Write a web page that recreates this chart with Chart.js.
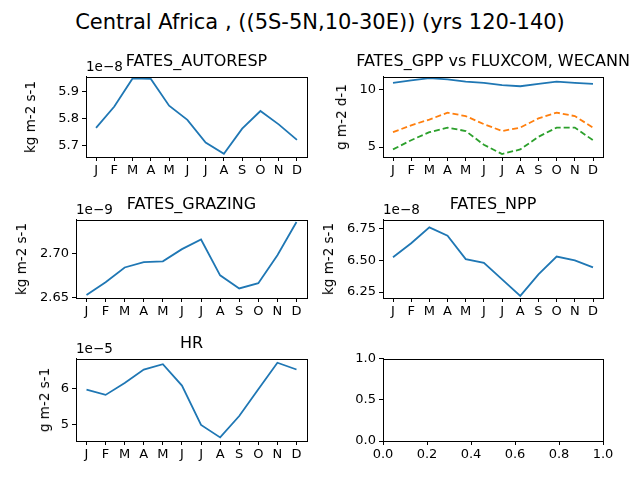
<!DOCTYPE html>
<html>
<head>
<meta charset="utf-8">
<script src="https://cdn.jsdelivr.net/npm/chart.js@4"></script>
<style>
  body { margin: 0; width: 640px; height: 480px; background: #fff; position: relative; overflow: hidden;
         font-family: "DejaVu Sans", sans-serif; color: #000; }
  canvas { position: absolute; }
  .t { position: absolute; white-space: nowrap; }
  .c { transform: translate(-50%, -50%); }
  .l { transform: translate(0, -50%); }
  .r { transform: translate(-50%, -50%) rotate(-90deg); }
</style>
</head>
<body>
<script>
// ---- data ----
const months = ['J', 'F', 'M', 'A', 'M', 'J', 'J', 'A', 'S', 'O', 'N', 'D'];

const autoresp = [5.765, 5.845, 5.95, 5.948, 5.848, 5.795, 5.71, 5.668, 5.762, 5.828, 5.778, 5.72];
const gppFates = [10.6, 10.8, 11.0, 10.9, 10.7, 10.6, 10.4, 10.3, 10.5, 10.7, 10.6, 10.5];
const gppFluxcom = [6.3, 6.9, 7.4, 8.0, 7.7, 7.0, 6.4, 6.7, 7.5, 8.0, 7.7, 6.7];
const gppWecann = [4.8, 5.6, 6.3, 6.7, 6.4, 5.2, 4.4, 4.8, 5.9, 6.7, 6.7, 5.6];
const grazing = [2.6525, 2.667, 2.684, 2.690, 2.691, 2.705, 2.716, 2.675, 2.660, 2.666, 2.698, 2.736];
const npp = [6.525, 6.635, 6.76, 6.695, 6.51, 6.48, 6.35, 6.22, 6.39, 6.53, 6.50, 6.445];
const hr = [5.97, 5.82, 6.15, 6.53, 6.68, 6.08, 4.98, 4.63, 5.23, 5.98, 6.72, 6.53];

const autorespTicks = ['5.7', '5.8', '5.9'];
const gppTicks = ['5', '10'];
const grazingTicks = ['2.65', '2.70'];
const nppTicks = ['6.25', '6.50', '6.75'];
const hrTicks = ['5', '6'];
const emptyTicks = ['0.0', '0.5', '1.0'];
const emptyXTicks = ['0.0', '0.2', '0.4', '0.6', '0.8', '1.0'];

// ---- helpers ----
const BLUE = '#1f77b4', ORANGE = '#ff7f0e', GREEN = '#2ca02c';
const FONT = { family: 'DejaVu Sans', size: 13 };
const PAD_TOP = 10, X_H = 24, PAD_R = 14;

function text(str, x, y, cls, size) {
  const d = document.createElement('div');
  d.className = 't ' + cls;
  d.style.left = x + 'px';
  d.style.top = y + 'px';
  d.style.fontSize = size + 'px';
  d.textContent = str;
  document.body.appendChild(d);
}

const frame = {
  id: 'frame',
  afterDraw(chart) {
    const a = chart.chartArea, c = chart.ctx;
    c.save();
    c.strokeStyle = '#000';
    c.lineWidth = 1;
    c.strokeRect(Math.round(a.left) + 0.5, Math.round(a.top) + 0.5,
                 Math.round(a.right - a.left), Math.round(a.bottom - a.top));
    c.restore();
  }
};

function ticksFrom(labels) {
  return function (scale) { scale.ticks = labels.map(v => ({ value: parseFloat(v) })); };
}

function panel(o) {
  const cv = document.createElement('canvas');
  const w = o.yw + o.pw + PAD_R, h = PAD_TOP + o.ph + X_H;
  cv.width = w; cv.height = h;
  cv.style.width = w + 'px'; cv.style.height = h + 'px';
  cv.style.left = (o.left - o.yw) + 'px';
  cv.style.top = (o.top - PAD_TOP) + 'px';
  document.body.appendChild(cv);

  const xLabels = o.xLabels || months;
  new Chart(cv, {
    type: 'line',
    data: {
      datasets: o.series.map(s => ({
        data: s.values.map((v, i) => ({ x: i, y: v })),
        borderColor: s.color,
        borderWidth: 1.8,
        borderDash: s.dash || [],
        pointRadius: 0,
        tension: 0,
        fill: false
      }))
    },
    options: {
      responsive: false,
      animation: false,
      events: [],
      layout: { padding: { top: PAD_TOP, right: PAD_R, left: 0, bottom: 0 } },
      plugins: { legend: { display: false }, tooltip: { enabled: false } },
      scales: {
        x: {
          type: 'linear',
          min: o.xMin !== undefined ? o.xMin : -0.55,
          max: o.xMax !== undefined ? o.xMax : 11.55,
          afterBuildTicks: o.xLabels ? ticksFrom(o.xLabels)
            : (s => { s.ticks = months.map((m, i) => ({ value: i })); }),
          afterFit: s => { s.height = X_H; },
          grid: { drawOnChartArea: false, tickLength: 4, color: '#000' },
          border: { color: '#000' },
          ticks: { color: '#000', font: FONT, padding: 2, maxRotation: 0, autoSkip: false,
                   callback: (v, i) => xLabels[i] }
        },
        y: {
          min: o.yMin, max: o.yMax,
          afterBuildTicks: ticksFrom(o.yTicks),
          afterFit: s => { s.width = o.yw; },
          grid: { drawOnChartArea: false, tickLength: 4, color: '#000' },
          border: { color: '#000' },
          ticks: { color: '#000', font: FONT, padding: 3, callback: (v, i) => o.yTicks[i] }
        }
      }
    },
    plugins: [frame]
  });

  if (o.title) text(o.title, o.left + o.pw / 2, o.top - 16, 'c', 16);
  if (o.offset) text(o.offset, o.left, o.top - 10, 'l', 13.5);
  if (o.ylabel) text(o.ylabel, o.ylx, o.top + o.ph / 2, 'r', 13.5);
}

text('Central Africa , ((5S-5N,10-30E)) (yrs 120-140)', 320, 22, 'c', 21);

panel({ left: 86, top: 76, pw: 221, ph: 81, yw: 86, yMin: 5.656, yMax: 5.956, yTicks: autorespTicks,
        series: [{ values: autoresp, color: BLUE }], title: 'FATES_AUTORESP', offset: '1e\u22128',
        ylabel: 'kg m-2 s-1', ylx: 30 });
panel({ left: 383, top: 76, pw: 220, ph: 81, yw: 63, yMin: 4.14, yMax: 11.12, yTicks: gppTicks,
        series: [{ values: gppFates, color: BLUE }, { values: gppFluxcom, color: ORANGE, dash: [6, 3] },
                 { values: gppWecann, color: GREEN, dash: [6, 3] }],
        title: 'FATES_GPP vs FLUXCOM, WECANN', ylabel: 'g m-2 d-1', ylx: 341 });
panel({ left: 76, top: 219, pw: 231, ph: 79, yw: 76, yMin: 2.649, yMax: 2.7386, yTicks: grazingTicks,
        series: [{ values: grazing, color: BLUE }], title: 'FATES_GRAZING', offset: '1e\u22129',
        ylabel: 'kg m-2 s-1', ylx: 21 });
panel({ left: 383, top: 219, pw: 220, ph: 79, yw: 63, yMin: 6.203, yMax: 6.82, yTicks: nppTicks,
        series: [{ values: npp, color: BLUE }], title: 'FATES_NPP', offset: '1e\u22128',
        ylabel: 'kg m-2 s-1', ylx: 328 });
panel({ left: 76, top: 358, pw: 231, ph: 83, yw: 76, yMin: 4.53, yMax: 6.83, yTicks: hrTicks,
        series: [{ values: hr, color: BLUE }], title: 'HR', offset: '1e\u22125',
        ylabel: 'g m-2 s-1', ylx: 44 });
panel({ left: 383, top: 358, pw: 220, ph: 83, yw: 63, yMin: 0, yMax: 1, yTicks: emptyTicks,
        xMin: 0, xMax: 1, xLabels: emptyXTicks, series: [] });
</script>
</body>
</html>
